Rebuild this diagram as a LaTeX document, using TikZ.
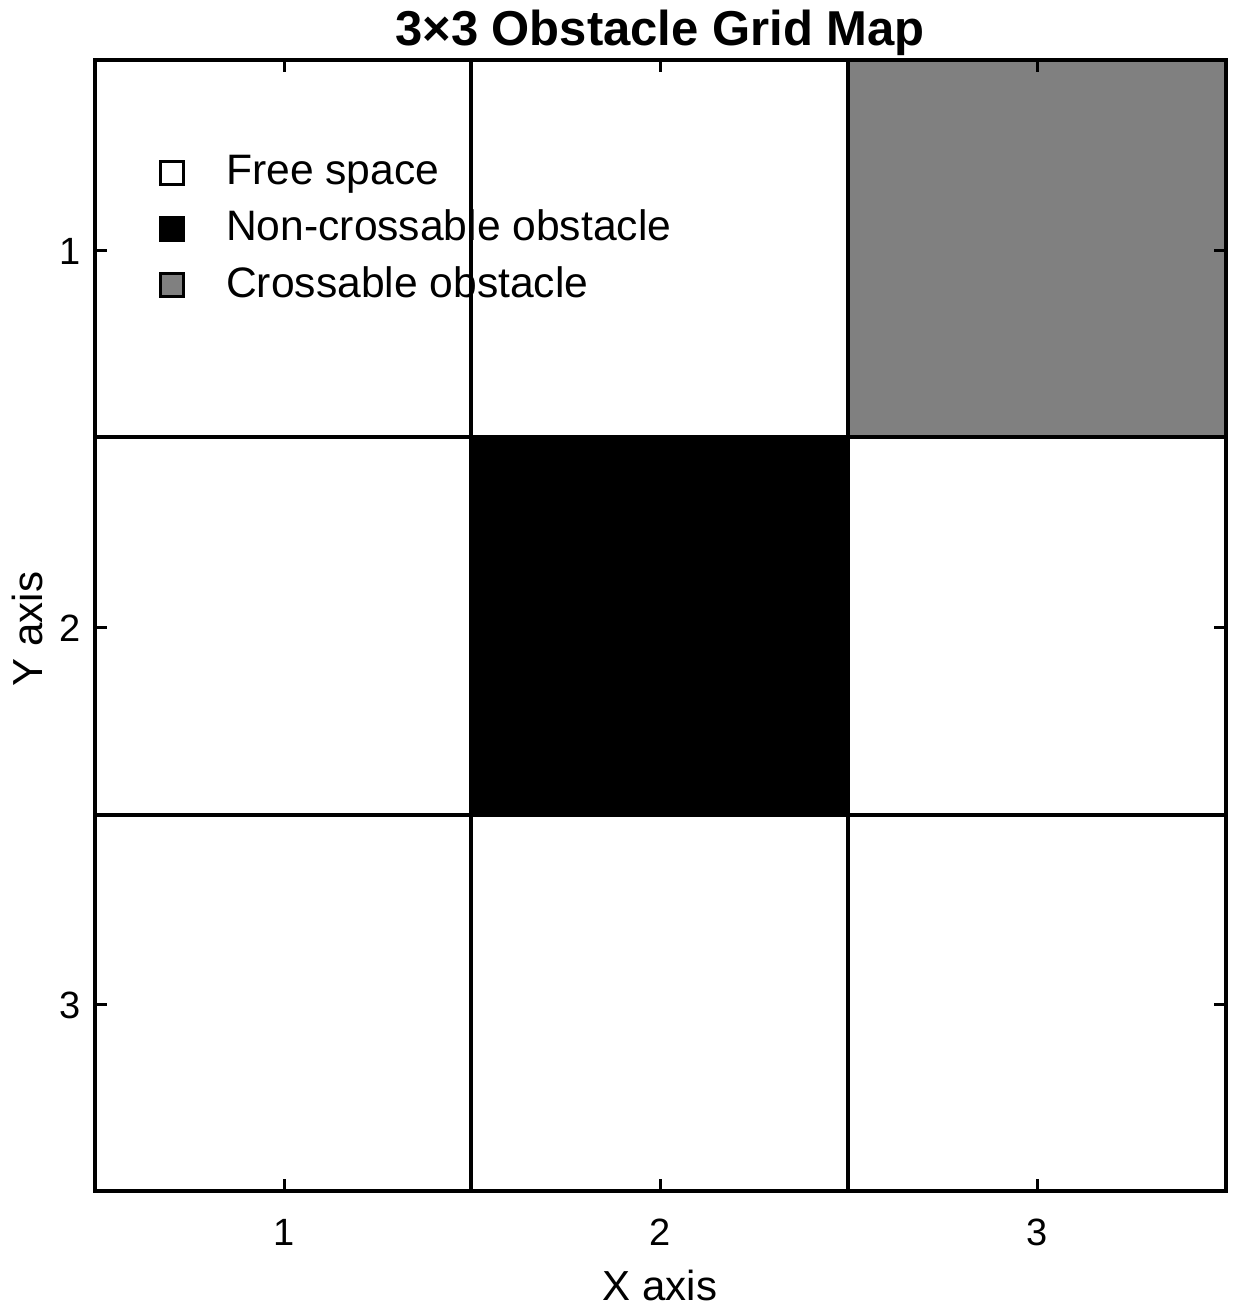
\documentclass[tikz,border=0pt]{standalone}
\usepackage{fontspec}
\setmainfont{Liberation Sans}
\begin{document}
\begin{tikzpicture}[x=1pt,y=-1pt,
  cellline/.style={line width=3.5pt},
  frameline/.style={line width=4pt},
  tickmark/.style={line width=3pt},
  ticklbl/.style={font=\fontsize{38}{44}\selectfont, inner sep=0pt},
  axislbl/.style={font=\fontsize{42}{48}\selectfont, inner sep=0pt},
  legtext/.style={font=\fontsize{42.6}{50}\selectfont, inner sep=0pt, anchor=base west},
  legbox/.style={draw=black, line width=3pt, minimum size=23pt, inner sep=0pt},
]
\useasboundingbox[fill=white] (0,0) rectangle (1240,1314);
% cells
\fill[black!50] (848,60) rectangle (1226,437);
\fill[black] (471,437) rectangle (848,815);
% grid lines
\draw[cellline] (471,60) -- (471,1191);
\draw[cellline] (848,60) -- (848,1191);
\draw[cellline] (95,437) -- (1226,437);
\draw[cellline] (95,815) -- (1226,815);
% ticks
\foreach \t in {284,660,1037}{
  \draw[tickmark] (\t,1191) -- (\t,1179);
  \draw[tickmark] (\t,60) -- (\t,72);
}
\foreach \t in {250,627,1004}{
  \draw[tickmark] (95,\t) -- (107,\t);
  \draw[tickmark] (1226,\t) -- (1214,\t);
}
% frame
\draw[frameline] (95,60) rectangle (1226,1191);
% tick labels
\node[ticklbl, anchor=base] (x1) at (284,1245) {1};
\node[ticklbl, anchor=base] (x2) at (660,1245) {2};
\node[ticklbl, anchor=base] (x3) at (1037,1245) {3};
\node[ticklbl, anchor=east] (y1) at (81,251) {1};
\node[ticklbl, anchor=east] (y2) at (81,628) {2};
\node[ticklbl, anchor=east] (y3) at (81,1005) {3};
% axis labels
\node[axislbl, anchor=base] (xl) at (660,1300) {X axis};
\node[axislbl, anchor=base, rotate=90] (yl) at (42,629) {Y axis};
% title
\node[font=\fontsize{49}{56}\selectfont\bfseries, inner sep=0pt, anchor=base] (title) at (660,46) {3×3 Obstacle Grid Map};
% legend
\node[legbox, fill=white] (k1) at (172,173) {};
\node[legbox, fill=black] (k2) at (172,229) {};
\node[legbox, fill=black!50] (k3) at (172,285) {};
\node[legtext] (l1) at (226,184) {Free space};
\node[legtext] (l2) at (226,240) {Non-crossable obstacle};
\node[legtext] (l3) at (226,297) {Crossable obstacle};
\end{tikzpicture}
\end{document}
